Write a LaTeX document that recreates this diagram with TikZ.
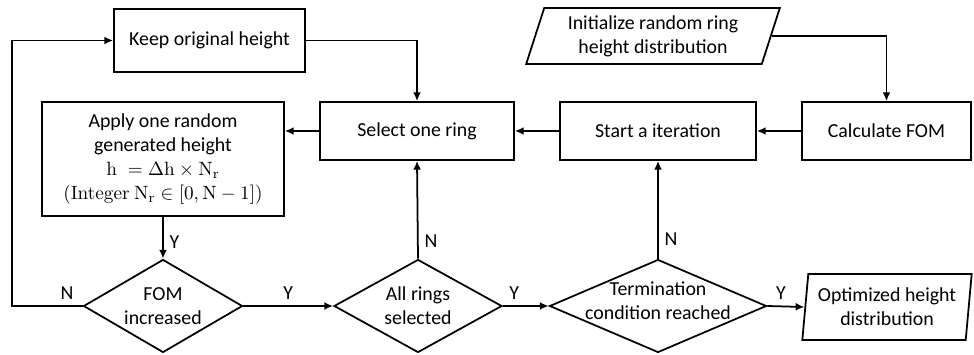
\documentclass[tikz,border=0pt]{standalone}
\usepackage[no-math]{fontspec}
\setmainfont{Carlito}
\usetikzlibrary{arrows.meta, shapes.geometric}

\begin{document}
\begin{tikzpicture}[x=0.02cm, y=-0.02cm, >={Latex[length=5pt, width=4.5pt]},
  font=\fontsize{11.3}{13.6}\selectfont,
  every node/.style={align=center},
  procbox/.style={draw, line width=1pt, minimum height=1.16cm, inner sep=2pt},
  iobox/.style={draw, line width=1pt, trapezium, trapezium stretches=true, inner sep=2pt},
  decision/.style={draw, line width=1pt, diamond, minimum height=1.86cm, inner sep=0pt},
  flow/.style={draw, line width=1pt, ->}]
  \useasboundingbox (0,0) rectangle (974,355);

  % top row
  \node[procbox, minimum width=3.82cm, minimum height=1.26cm] (keep) at (209.5,40.5) {Keep original height};
  \node[iobox, trapezium left angle=73, trapezium right angle=107,
    minimum width=5.08cm, minimum height=1.12cm] (init) at (653,36)
    {Initialize random ring\\height distribution};

  % middle row
  \node[procbox, minimum width=4.84cm, minimum height=2.28cm] (apply) at (163,159)
    {Apply one random\\generated height\\$\mathrm{h}\;=\Delta\mathrm{h}\times\mathrm{N}_\mathrm{r}$\\
     $(\mathrm{Integer}\ \mathrm{N}_\mathrm{r}\in[0,\mathrm{N}-1])$};
  \node[procbox, minimum width=3.88cm] (select) at (417,131) {Select one ring};
  \node[procbox, minimum width=3.92cm] (start) at (658,131) {Start a iteration};
  \node[procbox, minimum width=3.38cm] (calc) at (886.5,131) {Calculate FOM};

  % bottom row
  \node[decision, minimum width=3.18cm, label={[align=center]center:FOM\\increased}] (fom) at (163,306) {};
  \node[decision, minimum width=3.36cm, label={[align=center]center:All rings\\selected}] (allr) at (418,306) {};
  \node[decision, minimum width=4.34cm,
    label={[align=center, yshift=3pt]center:Termination\\condition reached}] (term) at (658,306) {};
  \node[iobox, trapezium left angle=83, trapezium right angle=97,
    minimum width=3.4cm, minimum height=1.32cm] (opt) at (887,307)
    {Optimized height\\distribution};

  \coordinate (loop) at (12,306);

  % connectors
  \draw[flow] (init.east) -| (calc.north);
  \draw[flow] (calc.west) -- (start.east);
  \draw[flow] (start.west) -- (select.east);
  \draw[flow] (select.west) -- (select.west -| apply.east);
  \draw[flow] (keep.east) -| (select.north);
  \draw[flow] (apply.south) -- node[right, pos=0.6] {Y} (fom.north);
  \draw[flow] (fom.west) -- node[above, pos=0.22] {N} (loop) |- (keep.west);
  \draw[flow] (fom.east) -- node[above] {Y} (allr.west);
  \draw[flow] (allr.north) -- node[right, pos=0.18] {N} (select.south);
  \draw[flow] (allr.east) -- node[above, pos=0.25] {Y} (term.west);
  \draw[flow] (term.north) -- node[right, pos=0.2] {N} (start.south);
  \draw[flow] (term.east) -- node[above, pos=0.37] {Y} (opt.west);
\end{tikzpicture}
\end{document}
